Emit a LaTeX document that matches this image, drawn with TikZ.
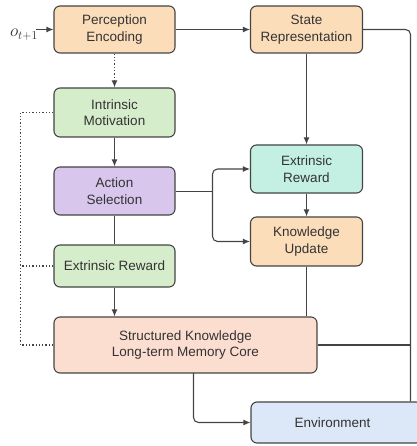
\documentclass[tikz,border=0pt]{standalone}
\usepackage{fontspec}
\setmainfont{Liberation Sans}
\usetikzlibrary{arrows.meta}
\definecolor{orangef}{HTML}{FCDDBA}
\definecolor{greenf}{HTML}{D6EDCB}
\definecolor{purplef}{HTML}{D8C6EC}
\definecolor{tealf}{HTML}{C4F0E4}
\definecolor{salmonf}{HTML}{FCDED0}
\definecolor{bluef}{HTML}{DCE8F8}
\definecolor{edge}{HTML}{444444}
\definecolor{txt}{HTML}{333333}
\begin{document}
\begin{tikzpicture}[x=1pt,y=-1pt,
  box/.style={draw=edge,line width=1.1pt,rounded corners=6pt,align=center,
    text=txt,font=\fontsize{13.5}{16.5}\selectfont,inner sep=0pt},
  arr/.style={draw=edge,line width=1.1pt,-{Latex[length=7pt,width=6pt]}},
  ln/.style={draw=edge,line width=1.1pt},
  dot/.style={draw=edge,line width=1.3pt,dotted}]
\useasboundingbox (0,0) rectangle (416,446);
\node[box,fill=orangef,minimum width=121pt,minimum height=47pt] (perc) at (114.5,29.5) {Perception\\Encoding};
\node[box,fill=orangef,minimum width=112pt,minimum height=47pt] (state) at (306.5,29.5) {State\\Representation};
\node[box,fill=greenf,minimum width=121pt,minimum height=49pt] (intr) at (114.5,112.5) {Intrinsic\\Motivation};
\node[box,fill=purplef,minimum width=121pt,minimum height=48pt] (act) at (114.5,191) {Action\\Selection};
\node[box,fill=greenf,minimum width=121pt,minimum height=42pt] (extg) at (114.5,266) {Extrinsic Reward};
\node[box,fill=tealf,minimum width=112pt,minimum height=48pt] (extt) at (306.5,169) {Extrinsic\\Reward};
\node[box,fill=orangef,minimum width=112pt,minimum height=49pt] (know) at (306.5,241.5) {Knowledge\\Update};
\node[box,fill=salmonf,minimum width=263pt,minimum height=56pt] (struct) at (185.5,345) {Structured Knowledge\\Long-term Memory Core};
\node[box,fill=bluef,minimum width=171pt,minimum height=41pt] (env) at (336.5,422.5) {\hspace*{-8pt}Environment};
\node[text=txt,font=\fontsize{17}{19}\selectfont,inner sep=1pt] (obs) at (24,35) {$o_{t+1}$};
\coordinate (br) at (212.5,191.5);
\coordinate (rt) at (410.5,29.5);
\coordinate (lt) at (20.5,112.5);
\coordinate (dn) at (193.5,373);
% connectors
\draw[arr] (obs.east |- perc.west) ++(-3,0) -- (perc.west);
\draw[arr] (perc.east) -- (state.west);
\draw[dot,-{Latex[length=7pt,width=6pt]}] (perc.south) -- (intr.north);
\draw[arr] (intr.south) -- (act.north);
\draw[ln] (act.south) -- (extg.north);
\draw[arr] (extg.south) -- (extg.south |- struct.north);
\draw[ln] (act.east |- br) -- (br);
\draw[arr,rounded corners=5pt] (br) |- (extt.west);
\draw[arr,rounded corners=5pt] (br) |- (know.west);
\draw[arr] (state.south) -- (extt.north);
\draw[arr] (extt.south) -- (know.north);
\draw[ln] (know.south) -- (know.south |- struct.north);
\draw[ln,rounded corners=5pt] (state.east) -- (rt) -- (rt |- env.north);
\draw[ln] (struct.east) -- (struct.east -| rt);
\draw[arr,rounded corners=5pt] (dn) |- (env.west);
\draw[dot] (intr.west) -- (lt) -- (lt |- struct.west) -- (struct.west);
\draw[dot] (extg.west) -- (extg.west -| lt);
\end{tikzpicture}
\end{document}
